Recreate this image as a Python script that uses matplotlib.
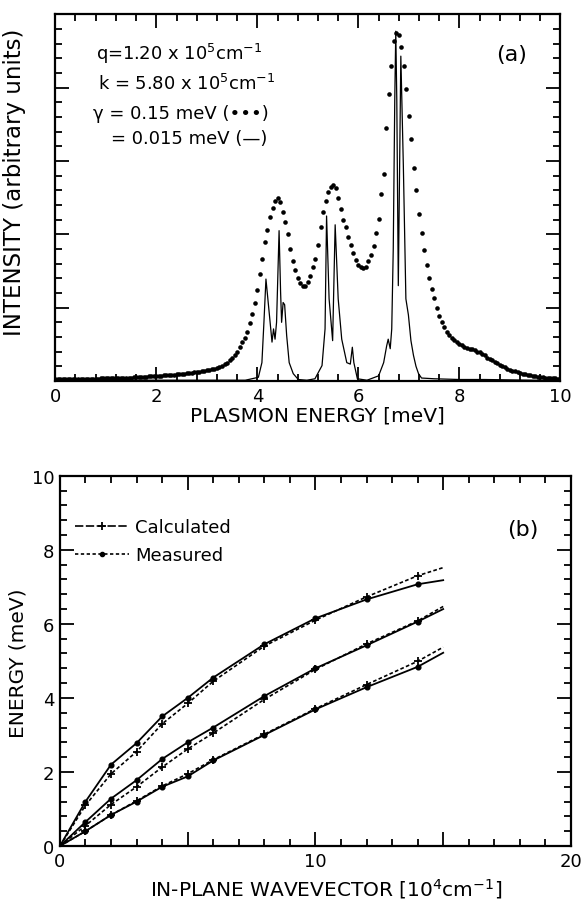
import numpy as np
import matplotlib
matplotlib.use("Agg")
import matplotlib.pyplot as plt
from matplotlib.lines import Line2D
from matplotlib.ticker import MultipleLocator, FuncFormatter

plt.rcParams['font.family'] = ['DejaVu Sans']
plt.rcParams['mathtext.fontset'] = 'dejavusans'

# ---------------- Panel (a) data ----------------
# gamma = 0.15 meV (dotted), sampled every 0.05 meV from 0 to 10
dotted_energy = np.round(np.arange(201) * 0.05, 2)
dotted_intensity = [
    0.025, 0.025, 0.025, 0.025, 0.025, 0.025, 0.027, 0.027, 0.028, 0.028,
    0.029, 0.029, 0.030, 0.030, 0.031, 0.031, 0.032, 0.033, 0.034, 0.035,
    0.036, 0.037, 0.038, 0.039, 0.040, 0.041, 0.042, 0.043, 0.044, 0.045,
    0.047, 0.049, 0.051, 0.053, 0.055, 0.057, 0.059, 0.061, 0.063, 0.065,
    0.067, 0.070, 0.073, 0.076, 0.079, 0.082, 0.085, 0.088, 0.091, 0.094,
    0.097, 0.100, 0.104, 0.108, 0.112, 0.117, 0.122, 0.127, 0.133, 0.139,
    0.146, 0.153, 0.161, 0.170, 0.180, 0.192, 0.206, 0.225, 0.25, 0.28,
    0.31, 0.35, 0.40, 0.46, 0.53, 0.59, 0.67, 0.79, 0.92, 1.06,
    1.24, 1.46, 1.67, 1.89, 2.06, 2.24, 2.36, 2.46, 2.49, 2.44,
    2.31, 2.17, 2.01, 1.80, 1.63, 1.51, 1.40, 1.34, 1.30, 1.30,
    1.35, 1.43, 1.55, 1.67, 1.85, 2.10, 2.30, 2.46, 2.58, 2.64,
    2.67, 2.63, 2.49, 2.34, 2.20, 2.10, 1.97, 1.85, 1.75, 1.65,
    1.58, 1.55, 1.54, 1.56, 1.63, 1.72, 1.84, 2.02, 2.21, 2.55,
    2.82, 3.45, 3.92, 4.30, 4.64, 4.74, 4.72, 4.55, 4.30, 3.98,
    3.62, 3.30, 2.91, 2.60, 2.28, 2.02, 1.78, 1.58, 1.40, 1.25,
    1.13, 0.99, 0.89, 0.81, 0.74, 0.67, 0.63, 0.59, 0.56, 0.53,
    0.51, 0.49, 0.47, 0.45, 0.44, 0.43, 0.42, 0.40, 0.39, 0.37,
    0.35, 0.32, 0.30, 0.28, 0.26, 0.24, 0.22, 0.20, 0.185, 0.17,
    0.155, 0.14, 0.13, 0.12, 0.11, 0.10, 0.09, 0.085, 0.078, 0.072,
    0.066, 0.06, 0.055, 0.05, 0.047, 0.044, 0.041, 0.038, 0.035, 0.033,
    0.03,
]

# gamma = 0.015 meV (solid line)
solid_energy = [
    0.0, 1.0, 2.0, 3.0, 3.76, 4.02, 4.09, 4.13, 4.17, 4.24, 4.29, 4.32, 4.35,
    4.38, 4.43, 4.46, 4.48, 4.51, 4.54, 4.58, 4.63, 4.71, 4.81, 4.98, 5.14,
    5.28, 5.34, 5.37, 5.42, 5.49, 5.54, 5.60, 5.67, 5.77, 5.84, 5.88, 5.91,
    5.98, 6.17, 6.40, 6.50, 6.56, 6.59, 6.63, 6.66, 6.69, 6.72, 6.74, 6.76,
    6.79, 6.84, 6.89, 6.94, 6.99, 7.04, 7.09, 7.14, 7.19, 7.25, 7.5, 8.0,
    8.5, 9.0, 9.5, 10.0,
]
solid_intensity = [
    0.01, 0.01, 0.01, 0.01, 0.01, 0.05, 0.25, 0.80, 1.39, 0.89, 0.53, 0.71,
    0.57, 0.80, 2.05, 1.21, 0.80, 1.07, 1.04, 0.62, 0.25, 0.10, 0.02, 0.01,
    0.03, 0.21, 0.71, 2.25, 1.12, 0.55, 2.13, 1.12, 0.57, 0.25, 0.23, 0.46,
    0.25, 0.03, 0.01, 0.07, 0.25, 0.48, 0.57, 0.44, 0.71, 1.80, 3.84, 4.77,
    3.84, 1.30, 4.43, 2.93, 1.12, 0.90, 0.55, 0.35, 0.20, 0.10, 0.04, 0.03,
    0.02, 0.02, 0.015, 0.01, 0.01,
]

# ---------------- Panel (b) data ----------------
wavevector = [0, 1, 2, 3, 4, 5, 6, 8, 10, 12, 14, 15]
upper_solid = [0, 1.20, 2.20, 2.78, 3.50, 4.00, 4.55, 5.45, 6.15, 6.66, 7.07, 7.18]
upper_dashed = [0, 1.10, 1.95, 2.55, 3.30, 3.85, 4.45, 5.40, 6.10, 6.73, 7.30, 7.52]
middle_solid = [0, 0.65, 1.28, 1.78, 2.35, 2.80, 3.20, 4.05, 4.80, 5.42, 6.06, 6.40]
middle_dashed = [0, 0.55, 1.12, 1.60, 2.13, 2.62, 3.05, 3.96, 4.77, 5.46, 6.08, 6.47]
lower_solid = [0, 0.40, 0.84, 1.20, 1.60, 1.88, 2.31, 3.00, 3.69, 4.29, 4.84, 5.22]
lower_dashed = [0, 0.40, 0.84, 1.22, 1.62, 1.95, 2.33, 3.02, 3.71, 4.36, 4.99, 5.37]

legend_labels = ["Calculated", "Measured"]

# ---------------- Figure ----------------
fig = plt.figure(figsize=(5.82, 9.03), dpi=100)
ax1 = fig.add_axes([0.095, 0.577, 0.868, 0.406])
ax2 = fig.add_axes([0.103, 0.062, 0.878, 0.410])

def style_axes(ax):
    for s in ax.spines.values():
        s.set_linewidth(1.6)
    ax.tick_params(which='both', direction='in', top=True, right=True,
                   width=1.3, labelsize=13, pad=4)
    ax.tick_params(which='major', length=10)
    ax.tick_params(which='minor', length=5)

# Panel (a)
ax1.plot(dotted_energy, dotted_intensity, linestyle='none', marker='o',
         markersize=3.3, color='black', markeredgewidth=0)
ax1.plot(solid_energy, solid_intensity, color='black', linewidth=0.9)
ax1.set_xlim(0, 10)
ax1.set_ylim(0, 5)
ax1.xaxis.set_major_locator(MultipleLocator(2))
ax1.xaxis.set_minor_locator(MultipleLocator(0.4))
ax1.yaxis.set_major_locator(MultipleLocator(1))
ax1.yaxis.set_minor_locator(MultipleLocator(0.2))
style_axes(ax1)
ax1.tick_params(axis='y', labelleft=False)
ax1.set_xlabel("PLASMON ENERGY [meV]", fontsize=14.5)
ax1.xaxis.set_label_coords(0.518, -0.066)
ax1.set_ylabel("INTENSITY (arbitrary units)", fontsize=16.5)
ax1.yaxis.set_label_coords(-0.058, 0.545)

txt_kw = dict(fontsize=13, ha='left', va='center')
ax1.text(0.80, 4.48, r"q=1.20 x 10$^5$cm$^{-1}$", **txt_kw)
ax1.text(0.85, 4.07, r"k = 5.80 x 10$^5$cm$^{-1}$", **txt_kw)
ax1.text(0.75, 3.66, "\u03b3 = 0.15 meV (\u2022\u2022\u2022)", **txt_kw)
ax1.text(1.10, 3.32, "= 0.015 meV (\u2014)", **txt_kw)
ax1.text(9.04, 4.46, "(a)", fontsize=16, ha='center', va='center')

# Panel (b)
dash_style = (0, (2.2, 1.4))
for ys in (upper_solid, middle_solid, lower_solid):
    ax2.plot(wavevector, ys, color='black', linewidth=1.3, marker='o',
             markersize=3.4, markevery=list(range(1, 11)))
for ys in (upper_dashed, middle_dashed, lower_dashed):
    ax2.plot(wavevector, ys, color='black', linewidth=1.2, linestyle=dash_style,
             marker='+', markersize=6, markeredgewidth=1.3,
             markevery=list(range(1, 11)))
ax2.set_xlim(0, 20)
ax2.set_ylim(0, 10)
ax2.xaxis.set_major_locator(MultipleLocator(5))
ax2.xaxis.set_minor_locator(MultipleLocator(1))
ax2.xaxis.set_major_formatter(FuncFormatter(lambda v, p: f"{int(v)}" if int(v) % 10 == 0 else ""))
ax2.yaxis.set_major_locator(MultipleLocator(2))
ax2.yaxis.set_minor_locator(MultipleLocator(0.4))
style_axes(ax2)
ax2.set_xlabel(r"IN-PLANE WAVEVECTOR [10$^4$cm$^{-1}$]", fontsize=14.5)
ax2.xaxis.set_label_coords(0.52, -0.08)
ax2.set_ylabel("ENERGY (meV)", fontsize=14.5)
ax2.yaxis.set_label_coords(-0.063, 0.497)
ax2.text(18.1, 8.57, "(b)", fontsize=16, ha='center', va='center')

handles = [
    Line2D([], [], color='black', linewidth=1.2, linestyle=(0, (5, 1.5)),
           marker='+', markersize=6, markeredgewidth=1.3),
    Line2D([], [], color='black', linewidth=1.2, linestyle=(0, (2, 1.5)),
           marker='o', markersize=3),
]
ax2.legend(handles, legend_labels, loc='upper left', bbox_to_anchor=(0.03, 0.885),
           frameon=False, fontsize=13, handlelength=3.0, handletextpad=0.3,
           borderpad=0, borderaxespad=0, labelspacing=0.55)

fig.savefig("out.png", dpi=100, facecolor='white')
